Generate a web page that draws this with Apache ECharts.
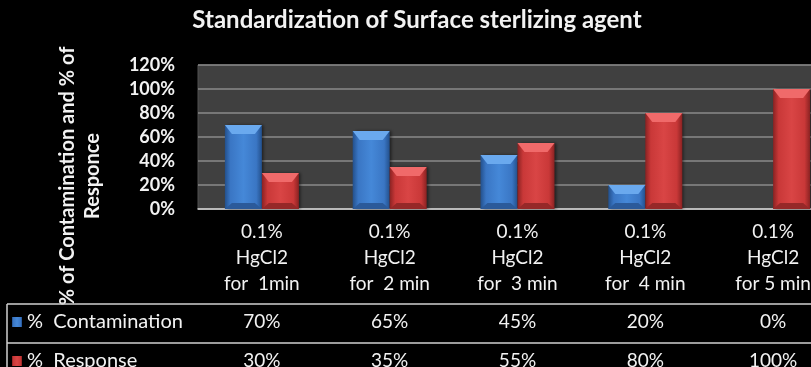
<!DOCTYPE html>
<html>
<head>
<meta charset="utf-8">
<script src="https://cdn.jsdelivr.net/npm/echarts@6/dist/echarts.min.js"></script>
<style>
  html, body { margin: 0; padding: 0; background: #000; }
  #chart { width: 811px; height: 367px; }
</style>
</head>
<body>
<div id="chart"></div>
<script>
// Treatment durations (category labels, three lines each)
const categories = [
  '0.1%\nHgCl2\nfor  1min',
  '0.1%\nHgCl2\nfor  2 min',
  '0.1%\nHgCl2\nfor  3 min',
  '0.1%\nHgCl2\nfor  4 min',
  '0.1%\nHgCl2\nfor 5 min'
];
// Percentages per treatment
const contamination = [70, 65, 45, 20, 0];
const response = [30, 35, 55, 80, 100];
const seriesNames = ['%  Contamination', '%  Response'];
const yTicks = { min: 0, max: 120, interval: 20 };

const FONT = 'Lato, "Open Sans", sans-serif';
const TEXT = '#f2f2f2';
const LINE = '#d0d0d0';
const BAR_W = 37;

function sideGradient(edge, mid, light) {
  return new echarts.graphic.LinearGradient(0, 0, 1, 0, [
    { offset: 0, color: edge },
    { offset: 0.15, color: mid },
    { offset: 0.5, color: light },
    { offset: 0.85, color: mid },
    { offset: 1, color: edge }
  ]);
}

const palette = {
  blue: { fill: sideGradient('#23508c', '#3a76c4', '#4588d8'), cap: '#6aa9ee', foot: '#2b5a9a' },
  red: { fill: sideGradient('#8a2222', '#c93838', '#d94545'), cap: '#f06a6a', foot: '#962828' }
};

// Bevelled top and bottom faces for both bars of a category
function renderBevels(params, api) {
  const i = api.value(0);
  const children = [];
  [[api.value(1), -1, palette.blue], [api.value(2), 0, palette.red]].forEach(([v, side, p]) => {
    if (!(v > 0)) return;
    const top = api.coord([i, v]);
    const base = api.coord([i, 0]);
    const x0 = top[0] + side * BAR_W;
    const x1 = x0 + BAR_W;
    const yt = top[1];
    const yb = base[1];
    const capH = Math.min(9, (yb - yt) / 2);
    const footH = Math.min(6, (yb - yt) / 3);
    children.push({
      type: 'polygon',
      shape: { points: [[x0, yt], [x1, yt], [x1 - 7, yt + capH], [x0 + 7, yt + capH]] },
      style: { fill: p.cap }
    });
    children.push({
      type: 'polygon',
      shape: { points: [[x0 + 7, yb - footH], [x1 - 7, yb - footH], [x1, yb], [x0, yb]] },
      style: { fill: p.foot }
    });
  });
  return { type: 'group', children };
}

const valueAxisLabel = (values, offset) => ({
  type: 'category', data: categories, position: 'bottom', offset: offset,
  axisLine: { show: false }, axisTick: { show: false },
  axisLabel: {
    color: TEXT, fontFamily: FONT, fontSize: 19, lineHeight: 20, margin: 4, interval: 0,
    formatter: (v, i) => values[i] + '%'
  }
});

const legendRow = (name, top) => ({
  data: [name], left: 12, top: top, padding: 0,
  itemWidth: 10, itemHeight: 10, icon: 'rect',
  textStyle: { color: TEXT, fontFamily: FONT, fontSize: 20, lineHeight: 20 }
});

const chart = echarts.init(document.getElementById('chart'));
chart.setOption({
  backgroundColor: '#000',
  animation: false,
  title: {
    text: 'Standardization of Surface sterlizing agent',
    left: 412,
    textAlign: 'center',
    top: 3,
    textStyle: { color: TEXT, fontFamily: FONT, fontWeight: 'bold', fontSize: 24 }
  },
  legend: [legendRow(seriesNames[0], 312), legendRow(seriesNames[1], 351)],
  grid: {
    left: 198, top: 65, width: 639, height: 144,
    outerBoundsMode: 'none', containLabel: false,
    show: true, backgroundColor: '#404040', borderColor: '#505050', borderWidth: 1
  },
  xAxis: [
    {
      type: 'category', data: categories, position: 'bottom', offset: 2,
      axisLine: { lineStyle: { color: LINE, width: 1.5 } },
      axisTick: { length: 160, lineStyle: { color: LINE, width: 1.5 } },
      axisLabel: { color: TEXT, fontFamily: FONT, fontSize: 19, lineHeight: 26, margin: 8, interval: 0 }
    },
    valueAxisLabel(contamination, 99),
    valueAxisLabel(response, 138)
  ],
  yAxis: {
    type: 'value', min: yTicks.min, max: yTicks.max, interval: yTicks.interval,
    axisLine: { show: false }, axisTick: { show: false },
    splitLine: { lineStyle: { color: '#8a8a8a', width: 1.5 } },
    axisLabel: {
      color: TEXT, fontFamily: FONT, fontWeight: 'bold', fontSize: 18, margin: 23,
      formatter: v => v + '%'
    }
  },
  graphic: [
    {
      type: 'text', x: 80, y: 176, rotation: Math.PI / 2,
      style: {
        text: '% of Contamination and % of\nResponce',
        fill: TEXT, font: 'bold 20px ' + FONT, lineHeight: 25,
        align: 'center', verticalAlign: 'middle'
      }
    },
    { type: 'line', shape: { x1: 7, y1: 304, x2: 811, y2: 304 }, style: { stroke: LINE, lineWidth: 1.5 } },
    { type: 'line', shape: { x1: 7, y1: 343, x2: 811, y2: 343 }, style: { stroke: LINE, lineWidth: 1.5 } },
    { type: 'line', shape: { x1: 7, y1: 304, x2: 7, y2: 367 }, style: { stroke: LINE, lineWidth: 1.5 } }
  ],
  series: [
    {
      name: seriesNames[0], type: 'bar', data: contamination,
      barWidth: BAR_W, barGap: '0%', barCategoryGap: '42%',
      itemStyle: {
        color: palette.blue.fill,
        shadowColor: 'rgba(0,0,0,0.5)', shadowBlur: 3, shadowOffsetX: 2
      }
    },
    {
      name: seriesNames[1], type: 'bar', data: response,
      barWidth: BAR_W, barGap: '0%', barCategoryGap: '42%',
      itemStyle: {
        color: palette.red.fill,
        shadowColor: 'rgba(0,0,0,0.5)', shadowBlur: 3, shadowOffsetX: 2
      }
    },
    {
      type: 'custom', name: 'bevels', silent: true, z: 5,
      renderItem: renderBevels,
      encode: { x: 0, y: [1, 2] },
      data: categories.map((c, i) => [i, contamination[i], response[i]])
    }
  ]
});
</script>
</body>
</html>
